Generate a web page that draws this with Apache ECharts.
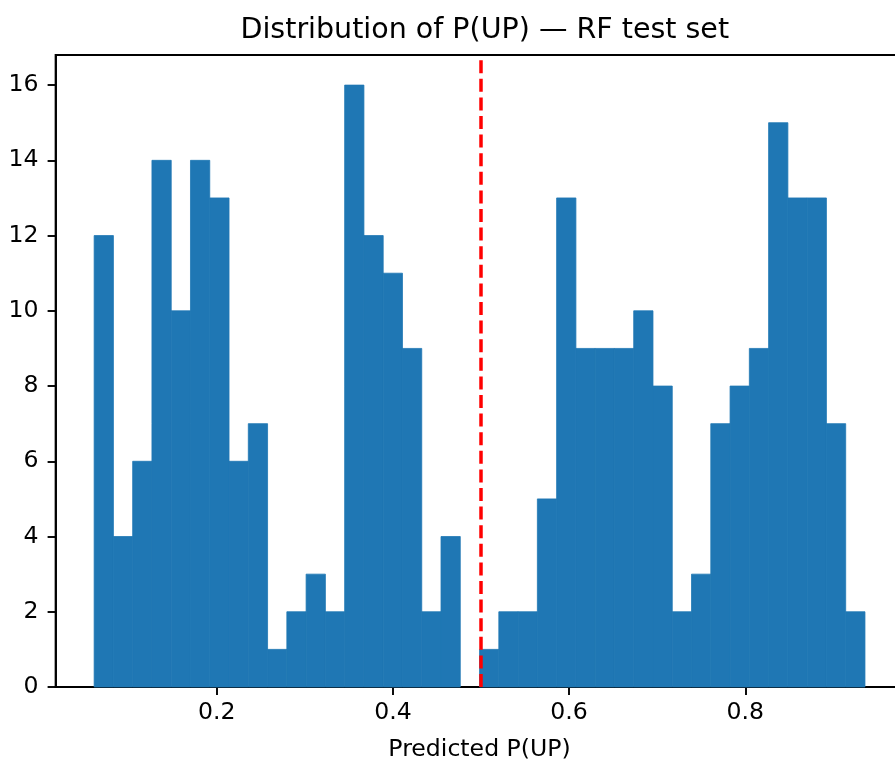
<!DOCTYPE html>
<html>
<head>
<meta charset="utf-8">
<script src="https://cdn.jsdelivr.net/npm/echarts@6/dist/echarts.min.js"></script>
<style>
html,body{margin:0;padding:0;background:#fff;}
#c{width:895px;height:760px;}
</style>
</head>
<body>
<div id="c"></div>
<script>
// Histogram data (40 equal-width bins)
var binLow = 0.0609;
var binHigh = 0.9358;
var counts = [12,4,6,14,10,14,13,6,7,1,2,3,2,16,12,11,9,2,4,0,1,2,2,5,13,9,9,9,10,8,2,3,7,8,9,15,13,13,7,2];
var threshold = 0.5;
var xTicks = [0.2, 0.4, 0.6, 0.8];
var yTicks = [0, 2, 4, 6, 8, 10, 12, 14, 16];
var titleText = 'Distribution of P(UP) \u2014 RF test set';
var xLabel = 'Predicted P(UP)';

var nBins = counts.length;
var w = (binHigh - binLow) / nBins;
var bins = counts.map(function (c, i) { return [binLow + i * w, binLow + (i + 1) * w, c]; });
var span = binHigh - binLow;
var xMin = binLow - 0.05 * span, xMax = binHigh + 0.05 * span;
var yMax = Math.max.apply(null, counts) * 1.05;

var FONT = 'DejaVu Sans';
var chart = echarts.init(document.getElementById('c'), null, {renderer: 'canvas'});
chart.setOption({
  animation: false,
  backgroundColor: '#fff',
  title: {
    text: titleText, left: 235.5, top: 11,
    textStyle: {fontFamily: FONT, fontSize: 28.5, fontWeight: 'normal', color: '#000'}
  },
  grid: {left: 55.6, right: -8.5, top: 55, bottom: 73, outerBoundsMode: 'none', containLabel: false,
    show: true, borderColor: '#000', borderWidth: 1.9, backgroundColor: 'transparent'},
  xAxis: {
    type: 'value', min: xMin, max: xMax,
    name: xLabel, nameLocation: 'middle', nameGap: 51,
    nameTextStyle: {fontFamily: FONT, fontSize: 23.6, color: '#000'},
    splitLine: {show: false},
    axisLine: {show: true, onZero: false, lineStyle: {color: '#000', width: 1.9}},
    axisTick: {show: true, length: 8, lineStyle: {color: '#000', width: 1.9}, customValues: xTicks},
    axisLabel: {fontFamily: FONT, fontSize: 23.6, color: '#000', margin: 14, customValues: xTicks,
      formatter: function (v) { return v.toFixed(1); }}
  },
  yAxis: {
    type: 'value', min: 0, max: yMax,
    splitLine: {show: false},
    axisLine: {show: true, lineStyle: {color: '#000', width: 1.9}},
    axisTick: {show: true, length: 8, lineStyle: {color: '#000', width: 1.9}, customValues: yTicks},
    axisLabel: {fontFamily: FONT, fontSize: 23.6, color: '#000', margin: 17, customValues: yTicks}
  },
  series: [
    {
      type: 'custom',
      data: bins,
      encode: {x: [0, 1], y: 2},
      renderItem: function (params, api) {
        if (!(api.value(2) > 0)) { return null; }
        var p0 = api.coord([api.value(0), 0]);
        var p1 = api.coord([api.value(1), api.value(2)]);
        return {
          type: 'rect',
          shape: {x: p0[0], y: p1[1], width: p1[0] - p0[0], height: p0[1] - p1[1]},
          style: {fill: '#1f77b4', stroke: '#1f77b4', lineWidth: 0.8}
        };
      },
      z: 2
    },
    {
      type: 'line',
      data: [[threshold, 0], [threshold, yMax]],
      symbol: 'none',
      lineStyle: {color: '#ff0000', width: 3.5, type: [13, 5.6]},
      z: 5
    }
  ]
});
</script>
</body>
</html>
